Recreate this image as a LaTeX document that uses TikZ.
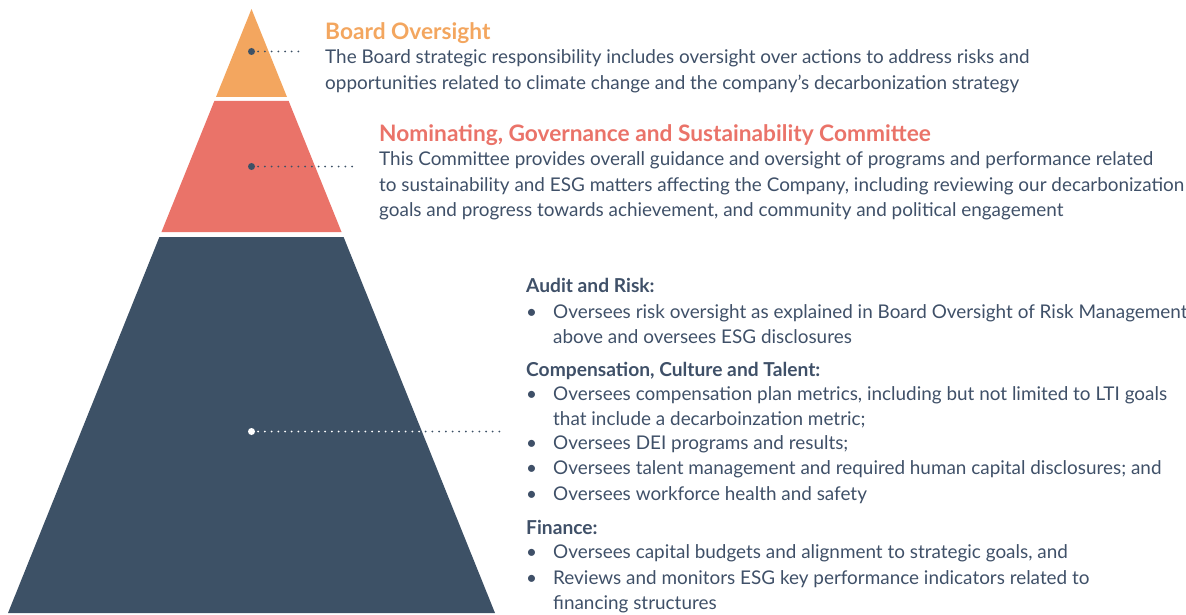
\documentclass[tikz,border=0pt]{standalone}
\usepackage{fontspec}
\setmainfont{Lato}
\definecolor{orng}{HTML}{F3A65F}
\definecolor{salm}{HTML}{EA7369}
\definecolor{navy}{HTML}{3D5166}
\definecolor{txt}{HTML}{3F5068}
\begin{document}
\begin{tikzpicture}[x=1pt,y=-1pt,
  body/.style={anchor=base west,inner sep=0pt,align=left,text=txt,font=\fontsize{18.9}{25.5}\selectfont},
  bighead/.style={anchor=base west,inner sep=0pt,font=\fontsize{22.7}{25}\selectfont\bfseries},
  subhead/.style={anchor=base west,inner sep=0pt,text=txt,font=\fontsize{19.2}{25}\selectfont\bfseries},
  bul/.style={anchor=base west,inner sep=0pt,text=txt,font=\fontsize{18.9}{25}\selectfont},
  dotline/.style={line width=2pt,line cap=round,dash pattern=on 0pt off 6.7pt},
  bigdot/.style={circle,inner sep=0pt,minimum size=7pt}]
\useasboundingbox (0,0) rectangle (1186,615);
% pyramid tiers
\fill[orng] (251.5,9) -- (287,97) -- (216,97) -- cycle;
\fill[salm] (214.35,101) -- (288.65,101) -- (341.55,232) -- (161.45,232) -- cycle;
\fill[navy] (159.4,237) -- (343.6,237) -- (495,613) -- (8,613) -- cycle;
% dots and leaders
\node[bigdot,fill=navy] (d1) at (251.5,51.5) {};
\coordinate (e1) at (302,51.5);
\draw[dotline,navy] (d1.center) ++(6.7,0) -- (e1);
\node[bigdot,fill=navy] (d2) at (251.5,166.5) {};
\coordinate (e2) at (357,166.5);
\draw[dotline,navy] (d2.center) ++(6.7,0) -- (e2);
\node[bigdot,fill=white] (d3) at (251.5,431.5) {};
\coordinate (m3) at (419,431.5);
\coordinate (e3) at (500,431.5);
\draw[dotline,white] (d3.center) ++(6.7,0) -- (m3);
\draw[dotline,navy] (m3) ++(6.7,0) -- (e3);
% texts (multi-line nodes are placed at the baseline of their last line)
\node[bighead,text=orng] (h1) at (325,39.5) {Board Oversight};
\node[body] (t1) at (325,89.5) {The Board strategic responsibility includes oversight over actions to address risks and\\opportunities related to climate change and the company’s decarbonization strategy};
\node[bighead,text=salm] (h2) at (379,141.5) {Nominating, Governance and Sustainability Committee};
\node[body] (t2) at (379,216.5) {This Committee provides overall guidance and oversight of programs and performance related\\to sustainability and ESG matters affecting the Company, including reviewing our decarbonization\\goals and progress towards achievement, and community and political engagement};
\node[subhead] (s1) at (526,292.5) {Audit and Risk:};
\node[bul] (b11) at (526,318) {•};
\node[body] (i11) at (553,343.5) {Oversees risk oversight as explained in Board Oversight of Risk Management\\above and oversees ESG disclosures};
\node[subhead] (s2) at (526,376.5) {Compensation, Culture and Talent:};
\node[bul] (b21) at (526,400) {•};
\node[body] (i21) at (553,425.5) {Oversees compensation plan metrics, including but not limited to LTI goals\\that include a decarboinzation metric;};
\node[bul] (b22) at (526,449) {•};
\node[body] (i22) at (553,449) {Oversees DEI programs and results;};
\node[bul] (b23) at (526,474) {•};
\node[body] (i23) at (553,474) {Oversees talent management and required human capital disclosures; and};
\node[bul] (b24) at (526,500) {•};
\node[body] (i24) at (553,500) {Oversees workforce health and safety};
\node[subhead] (s3) at (526,534.5) {Finance:};
\node[bul] (b31) at (526,558) {•};
\node[body] (i31) at (553,558) {Oversees capital budgets and alignment to strategic goals, and};
\node[bul] (b32) at (526,584) {•};
\node[body] (i32) at (553,609.5) {Reviews and monitors ESG key performance indicators related to\\financing structures};
\end{tikzpicture}
\end{document}
